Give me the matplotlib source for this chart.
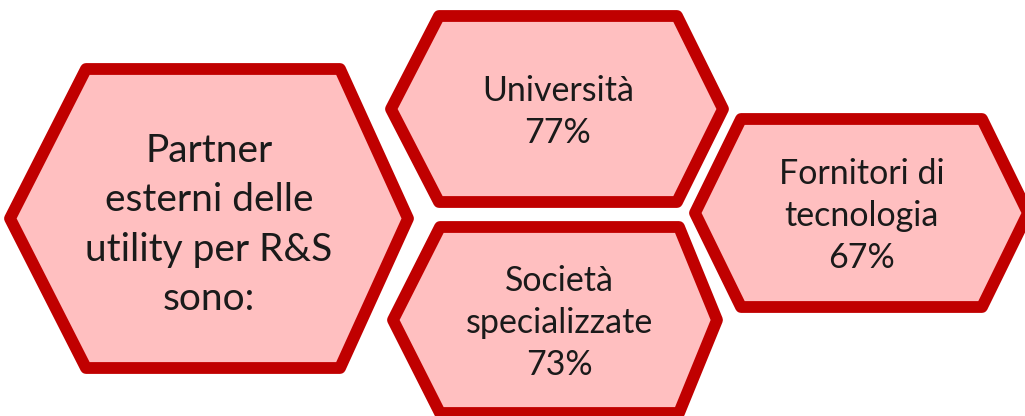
import matplotlib.pyplot as plt
from matplotlib.patches import Polygon

# main label and the three partner types
main_label = "Partner\nesterni delle\nutility per R&S\nsono:"
partners = ["Università", "Società\nspecializzate", "Fornitori di\ntecnologia"]
shares = [77, 73, 67]

FILL = "#ffbfc0"
EDGE = "#c00000"

# hexagon geometry in pixels: (left, right, top, bottom, left inset, right inset)
main_box = (10, 408, 69, 368, 76, 68)
boxes = [
    (391, 723, 16, 202, 48, 46),
    (393, 717, 227, 413, 47, 38),
    (695, 1028, 119, 307, 46, 46),
]


def hexagon(ax, box):
    x0, x1, y0, y1, li, ri = box
    ym = (y0 + y1) / 2
    pts = [(x0, ym), (x0 + li, y0), (x1 - ri, y0), (x1, ym), (x1 - ri, y1), (x0 + li, y1)]
    ax.add_patch(Polygon(pts, closed=True, facecolor=FILL, edgecolor=EDGE,
                         linewidth=8.5, joinstyle="round"))


fig = plt.figure(figsize=(10.25, 4.16), dpi=100)
ax = fig.add_axes([0, 0, 1, 1])
ax.set_xlim(0, 1025)
ax.set_ylim(416, 0)
ax.axis("off")

font = dict(family=["Lato", "DejaVu Sans"], weight="normal", color="#1a1a1a",
            ha="center", va="center")

hexagon(ax, main_box)
ax.text((main_box[0] + main_box[1]) / 2, 225, main_label, fontsize=28,
        linespacing=1.45, **font)

for box, name, share in zip(boxes, partners, shares):
    hexagon(ax, box)
    cx = (box[0] + box[1]) / 2 - (box[5] - box[4]) / 2
    cy = (box[2] + box[3]) / 2 + 3
    ax.text(cx, cy, f"{name}\n{share}%", fontsize=24.5, linespacing=1.38, **font)

fig.savefig("out.png", dpi=100)
